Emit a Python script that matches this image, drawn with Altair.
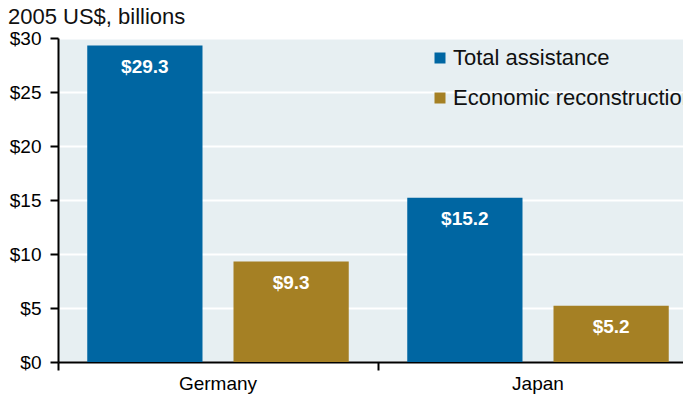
import altair as alt
import pandas as pd

countries = ["Germany", "Germany", "Japan", "Japan"]
series = ["Total assistance", "Economic reconstruction", "Total assistance", "Economic reconstruction"]
values = [29.3, 9.3, 15.2, 5.2]
series_order = ["Total assistance", "Economic reconstruction"]
colors = ["#0066a2", "#a58024"]
y_ticks = [0, 5, 10, 15, 20, 25, 30]

df = pd.DataFrame({"country": countries, "series": series, "value": values})

FONT = "Liberation Sans"

x = alt.X("country:N", title=None, sort=["Germany", "Japan"],
          scale=alt.Scale(paddingInner=0, paddingOuter=0, range=[0, 640]),
          axis=alt.Axis(bandPosition=0, labelOffset=0, labelAngle=0,
                        domainColor="black", domainWidth=2,
                        tickColor="black", tickWidth=2, tickSize=8,
                        labelFontSize=19, labelColor="black", labelFont=FONT,
                        labelPadding=4, grid=False))
xo = alt.XOffset("series:N", sort=series_order,
                 scale=alt.Scale(paddingInner=0.212, paddingOuter=0.2))
y = alt.Y("value:Q", title=None,
          scale=alt.Scale(domain=[0, 30], nice=False),
          axis=alt.Axis(values=y_ticks, labelExpr="'$' + datum.value",
                        domainColor="black", domainWidth=2,
                        tickColor="black", tickWidth=2, tickSize=8,
                        labelFontSize=19, labelColor="black", labelFont=FONT,
                        labelPadding=9, grid=True, gridColor="white", gridWidth=2))

bars = alt.Chart(df).mark_bar().encode(
    x=x, xOffset=xo, y=y,
    color=alt.Color("series:N", sort=series_order, title=None,
                    scale=alt.Scale(domain=series_order, range=colors),
                    legend=alt.Legend(orient="none", legendX=371, legendY=9,
                                      symbolType="square", symbolSize=121,
                                      symbolStrokeWidth=0, symbolOpacity=1,
                                      labelFontSize=22, labelFont=FONT, labelColor="#111111",
                                      labelOffset=2, rowPadding=18, padding=0,
                                      labelLimit=400)),
)

text = alt.Chart(df).mark_text(dy=21, baseline="middle", color="white",
                               fontWeight="bold", fontSize=19, font=FONT).encode(
    x=alt.X("country:N", sort=["Germany", "Japan"]), xOffset=xo,
    y=alt.Y("value:Q"),
    text=alt.Text("value:Q", format="$.1f"),
)

chart = alt.layer(bars, text).properties(
    width=625, height=324,
    autosize=alt.AutoSizeParams(type="none"),
    padding={"left": 50, "top": 30, "right": 0, "bottom": 36},
    title=alt.TitleParams("2005 US$, billions", anchor="start", frame="group",
                          fontSize=22, font=FONT, fontWeight="normal", color="#111111",
                          dx=-50, offset=0),
).configure_view(stroke=None, fill="#e7eff2")

chart.save("out.html", embed_options={"renderer": "svg", "actions": False})
